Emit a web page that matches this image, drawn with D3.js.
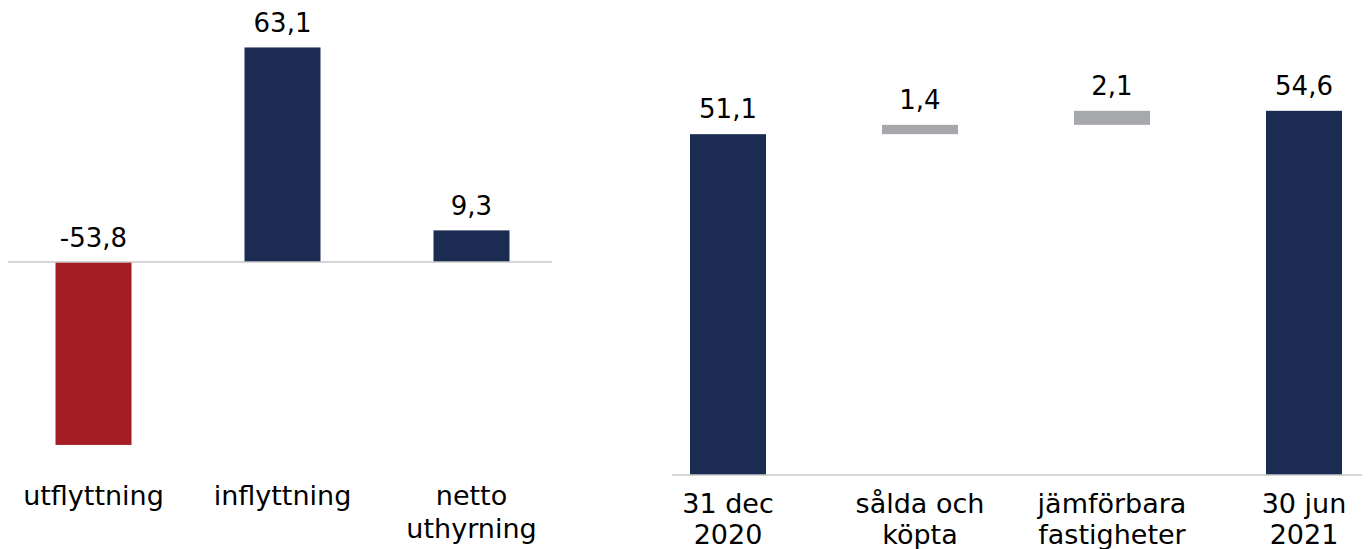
<!DOCTYPE html>
<html>
<head>
<meta charset="utf-8">
<script src="https://cdn.jsdelivr.net/npm/d3@7"></script>
<style>
  html, body { margin: 0; padding: 0; background: #ffffff; }
  svg { display: block; }
  text { font-family: "DejaVu Sans", Verdana, sans-serif; fill: #000; }
</style>
</head>
<body>
<svg id="chart" width="1368" height="549"></svg>
<script>
// ---- data ----
const leftCategories = [["utflyttning"], ["inflyttning"], ["netto", "uthyrning"]];
const leftValues = [-53.8, 63.1, 9.3];

const rightCategories = [["31 dec", "2020"], ["sålda och", "köpta"], ["jämförbara", "fastigheter"], ["30 jun", "2021"]];
const rightValues = [51.1, 1.4, 2.1, 54.6];
const rightKinds = ["total", "delta", "delta", "total"];

// ---- styles ----
const NAVY = "#1b2b52", RED = "#a51d24", GREY = "#a7a8ac", AXIS = "#c9c9c9";
const FS_VAL = 26, FS_CAT = 27;
const fmt = v => v.toFixed(1).replace(".", ",");

const svg = d3.select("#chart");

// ---- left panel ----
const xL = d3.scaleBand().domain(d3.range(leftValues.length)).range([-1, 566]).paddingInner(0.6).paddingOuter(0.3);
const yL = d3.scaleLinear().domain([-60, 70]).range([262 + 60 * 3.4, 262 - 70 * 3.4]);

const gL = svg.append("g");
gL.selectAll("rect").data(leftValues).join("rect")
  .attr("x", (d, i) => xL(i) + xL.bandwidth() / 2 - 38)
  .attr("width", 76)
  .attr("y", d => yL(Math.max(0, d)))
  .attr("height", d => Math.abs(yL(d) - yL(0)))
  .attr("fill", d => d < 0 ? RED : NAVY);

gL.append("line").attr("x1", 8).attr("x2", 552).attr("y1", yL(0)).attr("y2", yL(0))
  .attr("stroke", AXIS).attr("stroke-width", 1.5);

gL.selectAll("text.val").data(leftValues).join("text").attr("class", "val")
  .attr("x", (d, i) => xL(i) + xL.bandwidth() / 2)
  .attr("y", d => yL(Math.max(0, d)) - 15)
  .attr("text-anchor", "middle").attr("font-size", FS_VAL)
  .text(d => fmt(d));

leftCategories.forEach((lines, i) => {
  const cx = xL(i) + xL.bandwidth() / 2;
  const t = gL.append("text").attr("text-anchor", "middle").attr("font-size", FS_CAT)
    .attr("x", cx).attr("y", 505);
  lines.forEach((ln, j) => t.append("tspan").attr("x", cx).attr("dy", j === 0 ? 0 : 33).text(ln));
});

// ---- right panel (waterfall) ----
let run = 0;
const wf = rightValues.map((v, i) => {
  let s, e;
  if (rightKinds[i] === "total") { s = 0; e = v; run = v; }
  else { s = run; e = run + v; run = e; }
  return { v, s, e, kind: rightKinds[i] };
});

const xR = d3.scaleBand().domain(d3.range(rightValues.length)).range([632, 1400]).paddingInner(0.6).paddingOuter(0.3);
const yR = d3.scaleLinear().domain([0, 60]).range([475, 475 - 60 * 6.67]);

const gR = svg.append("g");
gR.selectAll("rect").data(wf).join("rect")
  .attr("x", (d, i) => xR(i) + xR.bandwidth() / 2 - 38)
  .attr("width", 76)
  .attr("y", d => yR(d.e))
  .attr("height", d => yR(d.s) - yR(d.e))
  .attr("fill", d => d.kind === "total" ? NAVY : GREY);

gR.append("line").attr("x1", 672).attr("x2", 1362).attr("y1", yR(0)).attr("y2", yR(0))
  .attr("stroke", AXIS).attr("stroke-width", 1.5);

gR.selectAll("text.val").data(wf).join("text").attr("class", "val")
  .attr("x", (d, i) => xR(i) + xR.bandwidth() / 2)
  .attr("y", d => yR(d.e) - 16)
  .attr("text-anchor", "middle").attr("font-size", FS_VAL)
  .text(d => fmt(d.v));

rightCategories.forEach((lines, i) => {
  const cx = xR(i) + xR.bandwidth() / 2;
  const t = gR.append("text").attr("text-anchor", "middle").attr("font-size", FS_CAT)
    .attr("x", cx).attr("y", 513);
  lines.forEach((ln, j) => t.append("tspan").attr("x", cx).attr("dy", j === 0 ? 0 : 31).text(ln));
});
</script>
</body>
</html>
